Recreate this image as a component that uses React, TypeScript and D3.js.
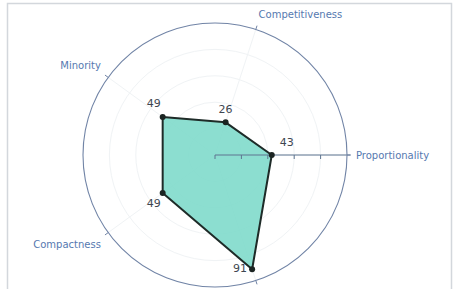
import * as d3 from 'd3';

// radar categories, counter-clockwise from 3 o'clock
const categories = ['Proportionality', 'Competitiveness', 'Minority', 'Compactness', 'Splitting'];
const values = [43, 26, 49, 49, 91];
const radialTicks = [0, 20, 40, 60, 80];
// where each value label sits relative to its point
const labelPos = ['top right', 'top center', 'top left', 'bottom left', 'middle left'];

const W = 453;
const H = 289;
const cx = 215;
const cy = 155;
const R = 132;

const App = () => {
    const r = d3.scaleLinear().domain([0, 100]).range([0, R]);
    const angle = d3.scaleLinear().domain([0, categories.length]).range([0, 2 * Math.PI]);

    // math angle (ccw from +x) -> screen xy
    const pt = (i: number, rad: number): [number, number] => {
        const a = angle(i);
        return [cx + rad * Math.cos(a), cy - rad * Math.sin(a)];
    };

    const radar = d3
        .lineRadial<number>()
        .angle((_, i) => Math.PI / 2 - angle(i))
        .radius((d) => r(d))
        .curve(d3.curveLinearClosed);

    const labelOffset = (pos: string): [number, number, string] => {
        switch (pos) {
            case 'top right': return [8, -9, 'start'];
            case 'top center': return [0, -9, 'middle'];
            case 'top left': return [-9, -10, 'middle'];
            case 'bottom left': return [-9, 14, 'middle'];
            default: return [-5, 3, 'end'];
        }
    };

    return (
        <svg width={W} height={H} style={{ position: 'absolute', left: 0, top: 0, background: '#fff' }}
            fontFamily="'DejaVu Sans', Verdana, sans-serif">
            {/* frame */}
            <path d={`M7.5,${H} V3.5 H451.5 V${H}`} fill="none" stroke="#d3d7dc" strokeWidth={1.5} />

            {/* faint grid */}
            <g stroke="#f0f3f5" fill="none">
                {radialTicks.slice(1).map((t) => (
                    <circle key={t} cx={cx} cy={cy} r={r(t)} />
                ))}
                {categories.map((c, i) => {
                    const [x, y] = pt(i, R);
                    return <line key={c} x1={cx} y1={cy} x2={x} y2={y} />;
                })}
            </g>

            {/* data polygon */}
            <g transform={`translate(${cx},${cy})`}>
                <path d={radar(values) as string} fill="#80dacb" fillOpacity={0.9}
                    stroke="#1e2b28" strokeWidth={2} strokeLinejoin="round" />
            </g>

            {/* radial axis with ticks */}
            <g stroke="#5f7590" strokeWidth={1}>
                <line x1={cx} y1={cy} x2={cx + R + 3} y2={cy} />
                {radialTicks.map((t) => (
                    <line key={t} x1={cx + r(t)} y1={cy} x2={cx + r(t)} y2={cy + 4} />
                ))}
            </g>

            {/* outer circle */}
            <circle cx={cx} cy={cy} r={R} fill="none" stroke="#7184a6" strokeWidth={1.1} />

            {/* angular ticks and labels */}
            {categories.map((c, i) => {
                const [x1, y1] = pt(i, R);
                const [x2, y2] = pt(i, R + 4);
                const [lx, ly] = pt(i, R + 9);
                const cs = Math.cos(angle(i));
                const sn = Math.sin(angle(i));
                const anchor = cs > 0.1 ? 'start' : cs < -0.1 ? 'end' : 'middle';
                const dy = sn > 0.5 ? -3 : sn < -0.5 ? 10 : 3.5;
                return (
                    <g key={c}>
                        <line x1={x1} y1={y1} x2={x2} y2={y2} stroke="#7184a6" />
                        {ly + dy < H - 2 && (
                            <text x={lx} y={ly + dy} textAnchor={anchor} fontSize={10} fill="#5679b0">{c}</text>
                        )}
                    </g>
                );
            })}

            {/* points and values */}
            {values.map((v, i) => {
                const [x, y] = pt(i, r(v));
                const [ox, oy, anchor] = labelOffset(labelPos[i]);
                return (
                    <g key={i}>
                        <circle cx={x} cy={y} r={3} fill="#1b2422" />
                        <text x={x + ox} y={y + oy} textAnchor={anchor} fontSize={11} fill="#3d4650">{v}</text>
                    </g>
                );
            })}
        </svg>
    );
};

export default App;
